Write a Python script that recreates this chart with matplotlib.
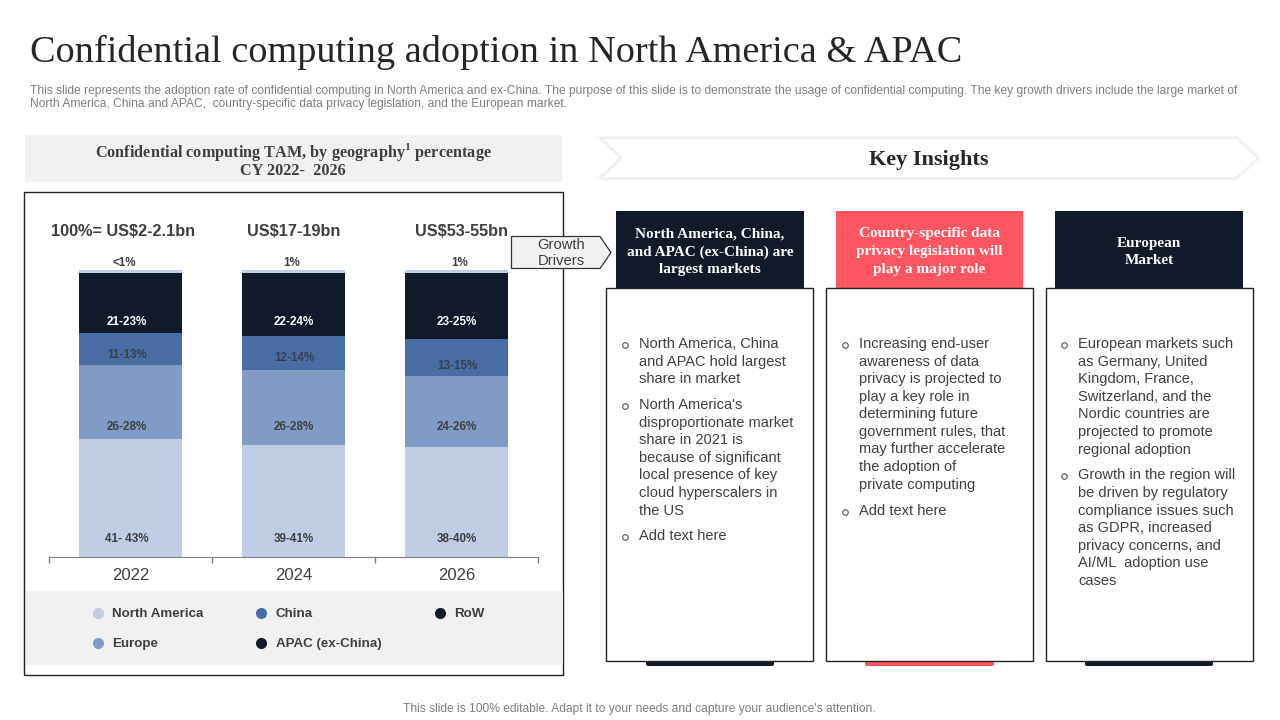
import matplotlib
matplotlib.use("Agg")
import matplotlib.pyplot as plt
from matplotlib.patches import Rectangle, Polygon, FancyBboxPatch

years = ["2022", "2024", "2026"]
north_america = [41, 39, 38.5]
europe = [26, 26, 24.5]
china = [11, 12, 13]
apac = [21, 22, 23]
row = [1, 1, 1]

na_labels = ["41- 43%", "39-41%", "38-40%"]
europe_labels = ["26-28%", "26-28%", "24-26%"]
china_labels = ["11-13%", "12-14%", "13-15%"]
apac_labels = ["21-23%", "22-24%", "23-25%"]
row_labels = ["<1%", "1%", "1%"]
totals = ["100%= US$2-2.1bn", "US$17-19bn", "US$53-55bn"]

legend_names = ["North America", "Europe", "China", "APAC (ex-China)", "RoW"]

C_NA = "#c0cde3"
C_EU = "#7f9bc6"
C_CN = "#4a6ca5"
C_DARK = "#111a28"
C_RED = "#fd5660"
C_TEXT = "#3f3f3f"
C_GREY = "#f1f1f1"

SERIF = "Liberation Serif"
SANS = "Liberation Sans"

plt.rcParams["mathtext.fontset"] = "custom"
plt.rcParams["mathtext.bf"] = "Liberation Serif:bold"

fig = plt.figure(figsize=(12.8, 7.2), dpi=100, facecolor="white")

# page layer in pixel coordinates
bg = fig.add_axes([0, 0, 1, 1], zorder=0)
bg.set_xlim(0, 1280)
bg.set_ylim(720, 0)
bg.axis("off")

top = fig.add_axes([0, 0, 1, 1], zorder=5)
top.set_xlim(0, 1280)
top.set_ylim(720, 0)
top.axis("off")
top.patch.set_alpha(0)


def box(ax, x0, y0, x1, y1, fc="white", ec="none", lw=1.0):
    ax.add_patch(Rectangle((x0, y0), x1 - x0, y1 - y0, fc=fc, ec=ec, lw=lw))


def txt(ax, x, y, s, size, color=C_TEXT, ha="center", family=SANS, weight="normal"):
    ax.text(x, y + 1, s, fontsize=size, color=color, ha=ha, va="center",
            family=family, weight=weight)


# header
txt(bg, 30, 51, "Confidential computing adoption in North America & APAC", 27.5,
    color="#262626", ha="left", family=SERIF)
txt(bg, 30, 90, "This slide represents the adoption rate of confidential computing in North America and ex-China. "
    "The purpose of this slide is to demonstrate the usage of confidential computing. The key growth drivers include the large market of",
    8.64, color="#7f7f7f", ha="left")
txt(bg, 30, 103.5, "North America, China and APAC,  country-specific data privacy legislation, and the European market.",
    8.64, color="#7f7f7f", ha="left")
txt(bg, 639, 708, "This slide is 100% editable. Adapt it to your needs and capture your audience's attention.",
    8.65, color="#7f7f7f")

# left panel
box(bg, 25, 135, 562, 182, fc=C_GREY)
txt(bg, 293, 151, r"Confidential computing TAM, by geography$^{\mathbf{1}}$ percentage", 11.7,
    family=SERIF, weight="bold")
txt(bg, 293, 170, "CY 2022-  2026", 11.7, family=SERIF, weight="bold")
box(bg, 24, 191.5, 563, 675, ec="#222222", lw=1.0)
box(bg, 25.5, 591, 562.5, 665, fc=C_GREY)

# stacked bars
ax = fig.add_axes([49 / 1280, (720 - 557) / 720, 489 / 1280, 287 / 720], zorder=2)
ax.patch.set_alpha(0)
xs = list(range(len(years)))
bottom = [0, 0, 0]
for values, colour in [(north_america, C_NA), (europe, C_EU), (china, C_CN), (apac, C_DARK), (row, C_NA)]:
    ax.bar(xs, values, width=0.626, bottom=bottom, color=colour, linewidth=0)
    bottom = [b + v for b, v in zip(bottom, values)]
ax.set_xlim(-0.5, 2.5)
ax.set_ylim(0, 100)
ax.set_yticks([])
ax.set_xticks(xs)
ax.set_xticklabels(years, fontsize=12, color=C_TEXT, family=SANS)
ax.set_xticks([-0.5, 0.5, 1.5, 2.5], minor=True)
ax.tick_params(axis="x", which="major", length=0, pad=8)
ax.tick_params(axis="x", which="minor", length=4, direction="out", color="#7f7f7f", width=1)
for side in ["top", "left", "right"]:
    ax.spines[side].set_visible(False)
ax.spines["bottom"].set_color("#7f7f7f")

# labels sit low in their segments on the slide, so they get pixel rows
centres = [127, 294, 457]
for i, cx in enumerate(centres):
    txt(top, cx, 538, na_labels[i], 8.4, weight="bold")
    txt(top, cx, 426, europe_labels[i], 8.4, weight="bold")
    txt(top, cx, [354, 357, 365][i], china_labels[i], 8.4, color="#34404f", weight="bold")
    txt(top, cx, 321, apac_labels[i], 8.4, color="white", weight="bold")
    txt(top, [124, 292, 460][i], 262, row_labels[i], 8.4, weight="bold")
    txt(top, [123.5, 293.5, 461][i], 230, totals[i], 11.7, weight="bold")

# legend
for (lx, ly), name, colour in zip([(98, 613), (98, 643), (261, 613), (261, 643), (440, 613)],
                                  legend_names, [C_NA, C_EU, C_CN, C_DARK, C_DARK]):
    top.plot([lx], [ly], "o", ms=8, color=colour, mew=0)
    txt(top, lx + 14.5, ly, name, 9.6, ha="left", weight="bold")

# growth drivers tag
top.add_patch(Polygon([(511.5, 236.5), (600, 236.5), (611, 252.5), (600, 268.5), (511.5, 268.5)],
                      fc=C_GREY, ec="#333333", lw=0.9))
txt(top, 561, 244, "Growth", 10.6)
txt(top, 561, 260, "Drivers", 10.6)

# key insights banner, white chevron with a soft edge
chevron = [(601, 138), (1236, 138), (1258, 158), (1236, 178), (601, 178), (622, 158)]
bg.add_patch(Polygon(chevron, fc="white", ec="#f5f5f5", lw=3.5, joinstyle="miter"))
bg.add_patch(Polygon(chevron, fc="white", ec="#ececec", lw=1, joinstyle="miter"))
txt(bg, 928.5, 158.5, "Key Insights", 16, color="#262626", family=SERIF, weight="bold")

# insight columns
columns = [
    dict(head=(616, 804), card=(606, 813), stub=(646, 774), colour=C_DARK, text_x=639, bullet_x=625,
         title=[(233, "North America, China,"), (251, "and APAC (ex-China) are"), (268, "largest markets")],
         lines=[(343, "North America, China", True), (361, "and APAC hold largest", False), (378, "share in market", False),
                (404, "North America's", True), (422, "disproportionate market", False), (439, "share in 2021 is", False),
                (457, "because of significant", False), (474, "local presence of key", False),
                (492, "cloud hyperscalers in", False), (510, "the US", False), (535, "Add text here", True)]),
    dict(head=(836, 1023), card=(826, 1033), stub=(865, 994), colour=C_RED, text_x=859, bullet_x=845,
         title=[(233, "Country-specific data"), (251, "privacy legislation will"), (268, "play a major role")],
         lines=[(343, "Increasing end-user", True), (361, "awareness of data", False), (378, "privacy is projected to", False),
                (396, "play a key role in", False), (413, "determining future", False), (431, "government rules, that", False),
                (448, "may further accelerate", False), (466, "the adoption of", False), (484, "private computing", False),
                (510, "Add text here", True)]),
    dict(head=(1055, 1243), card=(1046, 1253), stub=(1085, 1213), colour=C_DARK, text_x=1078, bullet_x=1064,
         title=[(242, "European"), (260, "Market")],
         lines=[(343, "European markets such", True), (361, "as Germany, United", False), (378, "Kingdom, France,", False),
                (396, "Switzerland, and the", False), (413, "Nordic countries are", False), (431, "projected to promote", False),
                (449, "regional adoption", False), (474, "Growth in the region will", True), (492, "be driven by regulatory", False),
                (510, "compliance issues such", False), (527, "as GDPR, increased", False), (545, "privacy concerns, and", False),
                (562, "AI/ML  adoption use", False), (580, "cases", False)]),
]
for col in columns:
    box(bg, col["head"][0], 211, col["head"][1], 290, fc=col["colour"])
    bg.add_patch(FancyBboxPatch((col["stub"][0] + 2, 658), col["stub"][1] - col["stub"][0] - 4, 6,
                                boxstyle="round,pad=2", fc=col["colour"], ec="none"))
    box(bg, col["card"][0], 288, col["card"][1], 660.5, ec="#222222", lw=1.0)
    mid = sum(col["head"]) / 2
    for y, line in col["title"]:
        txt(bg, mid, y, line, 11, color="white", family=SERIF, weight="bold")
    for y, line, bullet in col["lines"]:
        txt(bg, col["text_x"], y, line, 10.55, ha="left")
        if bullet:
            bg.plot([col["bullet_x"]], [y + 2], "o", ms=4, mfc="white", mec="#555555", mew=0.8)

fig.savefig("out.png", dpi=100)
print("wrote out.png")
